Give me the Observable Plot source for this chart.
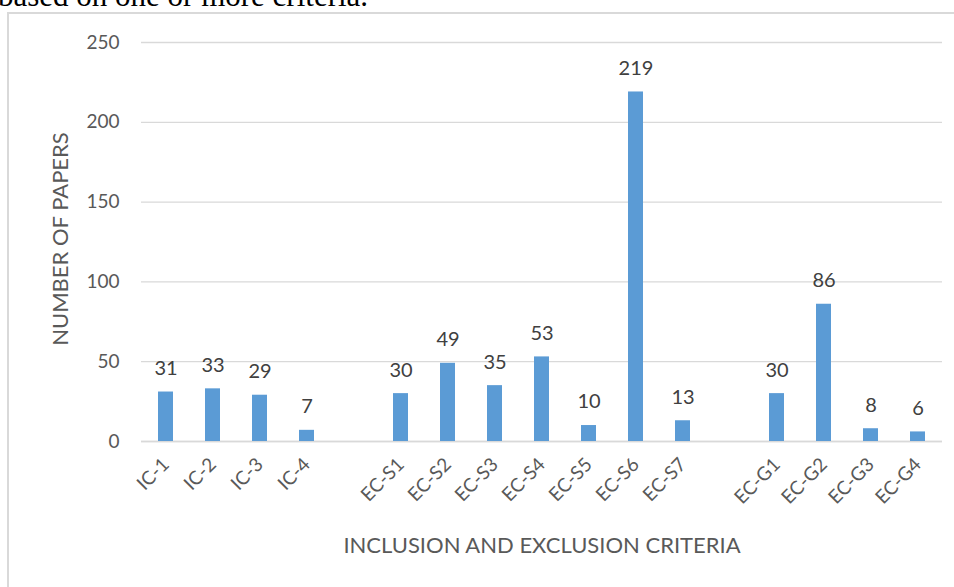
<!DOCTYPE html>
<html>
<head>
<meta charset="utf-8">
<script src="https://cdn.jsdelivr.net/npm/d3@7"></script>
<script src="https://cdn.jsdelivr.net/npm/@observablehq/plot@0.6"></script>
<style>
  html, body { margin: 0; padding: 0; background: #fff; overflow: hidden; }
  body { width: 954px; height: 587px; position: relative; }
  #caption { position: absolute; left: -2px; top: -19px; font-family: "Liberation Serif", serif; font-size: 31px; line-height: 30px; color: #000; white-space: nowrap; }
  #frame { position: absolute; left: 7px; top: 12px; width: 960px; height: 600px; border-left: 2px solid #d9d9d9; border-top: 2px solid #d9d9d9; }
  #chart { position: absolute; left: 0; top: 0; }
</style>
</head>
<body>
<div id="caption">based on one or more criteria.</div>
<div id="frame"></div>
<div id="chart"></div>
<script>
const categories = ["IC-1", "IC-2", "IC-3", "IC-4", "EC-S1", "EC-S2", "EC-S3", "EC-S4", "EC-S5", "EC-S6", "EC-S7", "EC-G1", "EC-G2", "EC-G3", "EC-G4"];
const values = [31, 33, 29, 7, 30, 49, 35, 53, 10, 219, 13, 30, 86, 8, 6];
const groupGaps = ["gap-1", "gap-2"];
const yTicks = [0, 50, 100, 150, 200, 250];
const yLabel = "NUMBER OF PAPERS";
const xLabel = "INCLUSION AND EXCLUSION CRITERIA";

const domain = [...categories.slice(0, 4), groupGaps[0], ...categories.slice(4, 11), groupGaps[1], ...categories.slice(11)];
const data = categories.map((c, i) => ({category: c, value: values[i]}));

const font = "Lato, 'Open Sans', sans-serif";
const plot = Plot.plot({
  width: 954,
  height: 587,
  marginLeft: 141,
  marginRight: 12,
  marginTop: 42,
  marginBottom: 146,
  style: {fontFamily: font, background: "transparent", overflow: "visible"},
  x: {domain, paddingInner: 0.68, paddingOuter: 0.34, label: null},
  y: {domain: [0, 250], label: null},
  marks: [
    Plot.gridY(yTicks, {stroke: "#d9d9d9", strokeOpacity: 1, strokeWidth: 1.3}),
    Plot.ruleY([0], {stroke: "#d9d9d9", strokeWidth: 1.5}),
    Plot.barY(data, {x: "category", y: "value", fill: "#5b9bd5"}),
    Plot.text(data, {x: "category", y: "value", text: d => String(d.value), dy: -23.5, lineAnchor: "middle", fontSize: 20, fill: "#404040"}),
    Plot.axisY(yTicks, {tickSize: 0, tickPadding: 22, fontSize: 19, color: "#595959", label: null}),
    Plot.axisX({tickSize: 0, tickRotate: -45, tickPadding: 20, fontSize: 19, color: "#595959", label: null,
      tickFormat: d => groupGaps.includes(d) ? "" : d}),
    Plot.text([yLabel], {frameAnchor: "left", textAnchor: "middle", dx: -81, dy: -3, rotate: -90, fontSize: 22, fill: "#595959"}),
    Plot.text([xLabel], {frameAnchor: "bottom", dy: 111, fontSize: 22, fill: "#595959"})
  ]
});
document.getElementById("chart").appendChild(plot);
</script>
</body>
</html>
